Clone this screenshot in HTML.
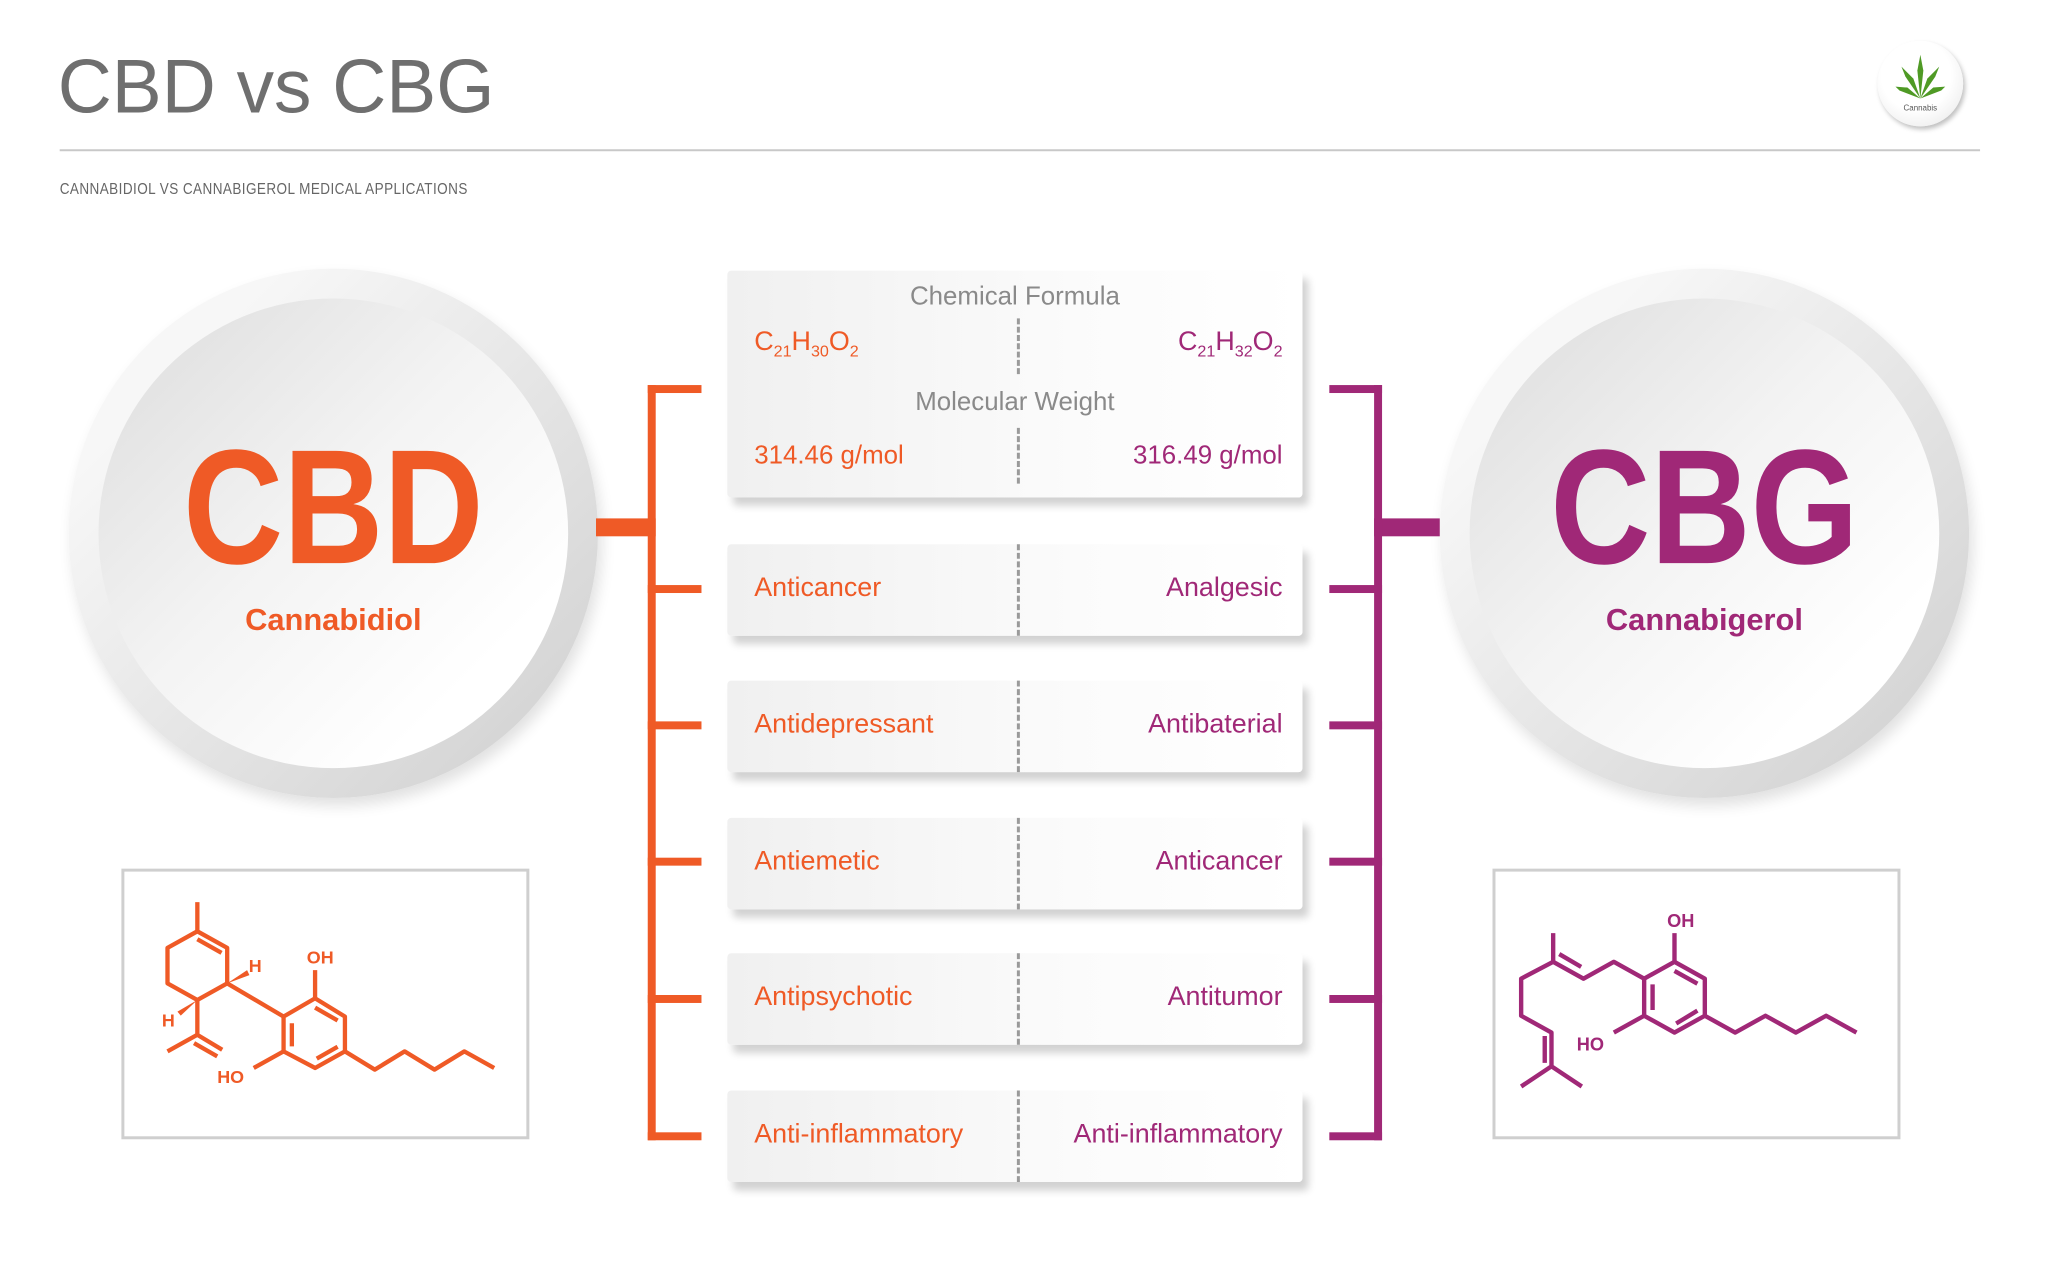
<!DOCTYPE html>
<html><head><meta charset="utf-8">
<style>
*{margin:0;padding:0;box-sizing:border-box}
body{width:2048px;height:1281px;background:#fff;position:relative;overflow:hidden;font-family:"Liberation Sans",sans-serif}
#wrap{position:absolute;left:0;top:0;width:2048px;height:1281px;transform:scale(0.995);transform-origin:0 0}
.abs{position:absolute}
.title{left:58px;top:44px;font-size:76px;color:#6f6f6f;transform:scaleX(0.99);transform-origin:left}
.rule{left:60px;top:150px;width:1930px;height:2px;background:#c8c8c8}
.sub{left:60px;top:182px;font-size:16px;color:#666;letter-spacing:0.5px;transform:scaleX(0.85);transform-origin:left}
.logo{left:1887px;top:41px;width:86px;height:86px;border-radius:50%;background:radial-gradient(circle at 45% 40%,#fff 50%,#e4e4e4 100%);box-shadow:2px 3px 5px rgba(0,0,0,.25)}
.outer{width:532px;height:532px;border-radius:50%;background:linear-gradient(135deg,#f7f7f7 20%,#d6d6d6 85%);box-shadow:4px 8px 14px rgba(0,0,0,.12)}
.inner{position:absolute;left:30px;top:30px;width:472px;height:472px;border-radius:50%;background:linear-gradient(135deg,#dcdcdc 0%,#f3f3f3 45%,#fff 80%)}
.big{position:absolute;width:100%;text-align:center;font-weight:bold;font-size:164px;top:146px;transform:scaleX(0.85)}
.name{position:absolute;width:100%;text-align:center;font-weight:bold;font-size:31px;top:225px}
.box{position:absolute;left:731px;width:578px;background:linear-gradient(90deg,#f0f0f0,#fbfbfb 60%,#fff);box-shadow:6px 8px 8px rgba(0,0,0,.18);border-radius:4px}
.row{height:92px}
.row .l,.row .r{position:absolute;top:28px;font-size:27px}
.l{left:27px;color:#ef5a26}
.r{right:20px;color:#a02877;text-align:right}
.dash{position:absolute;left:291px;width:0;border-left:3px dashed #9a9a9a}
.or{background:#ef5a26}.pu{background:#a02877}
.gray{color:#8a8a8a;font-size:26px;position:absolute;width:100%;text-align:center}
sub{font-size:60%}
.mol{position:absolute;border:3px solid #cfcfcf;background:#fff}
</style></head><body><div id="wrap">
<div class="abs title">CBD vs CBG</div>
<div class="abs rule"></div>
<div class="abs sub">CANNABIDIOL VS CANNABIGEROL MEDICAL APPLICATIONS</div>
<div class="abs logo">
<svg width="86" height="86" viewBox="0 0 86 86"><g fill="#4f9a25"><path d="M43 58 L40 30 L43 14 L46 30Z"/><path d="M43 58 L28 36 L24 26 L36 38Z"/><path d="M43 58 L58 36 L62 26 L50 38Z"/><path d="M43 58 L22 50 L18 46 L30 47Z"/><path d="M43 58 L64 50 L68 46 L56 47Z"/></g><text x="43" y="70" font-size="8" text-anchor="middle" fill="#555" font-family="Liberation Sans">Cannabis</text></svg>
</div>

<div class="abs outer" style="left:69px;top:270px"><div class="inner"></div>
<div class="big" style="color:#ef5a26">CBD</div><div class="name" style="color:#ef5a26;top:335px">Cannabidiol</div></div>
<div class="abs outer" style="left:1447px;top:270px"><div class="inner"></div>
<div class="big" style="color:#a02877">CBG</div><div class="name" style="color:#a02877;top:335px">Cannabigerol</div></div>

<div class="abs or" style="left:599px;top:521px;width:60px;height:18px"></div>
<div class="abs or" style="left:651px;top:387px;width:8px;height:759px"></div>
<div class="abs or" style="left:651px;top:387px;width:54px;height:8px"></div>
<div class="abs or" style="left:651px;top:588px;width:54px;height:8px"></div>
<div class="abs or" style="left:651px;top:725px;width:54px;height:8px"></div>
<div class="abs or" style="left:651px;top:862px;width:54px;height:8px"></div>
<div class="abs or" style="left:651px;top:1000px;width:54px;height:8px"></div>
<div class="abs or" style="left:651px;top:1138px;width:54px;height:8px"></div>
<div class="abs pu" style="left:1381px;top:521px;width:66px;height:18px"></div>
<div class="abs pu" style="left:1381px;top:387px;width:8px;height:759px"></div>
<div class="abs pu" style="left:1336px;top:387px;width:53px;height:8px"></div>
<div class="abs pu" style="left:1336px;top:588px;width:53px;height:8px"></div>
<div class="abs pu" style="left:1336px;top:725px;width:53px;height:8px"></div>
<div class="abs pu" style="left:1336px;top:862px;width:53px;height:8px"></div>
<div class="abs pu" style="left:1336px;top:1000px;width:53px;height:8px"></div>
<div class="abs pu" style="left:1336px;top:1138px;width:53px;height:8px"></div>

<div class="box" style="top:272px;height:228px">
<div class="gray" style="top:10px">Chemical Formula</div>
<div class="dash" style="top:48px;height:56px"></div>
<div class="abs l" style="top:56px;font-size:27px">C<sub>21</sub>H<sub>30</sub>O<sub>2</sub></div>
<div class="abs r" style="top:56px;font-size:27px">C<sub>21</sub>H<sub>32</sub>O<sub>2</sub></div>
<div class="gray" style="top:116px">Molecular Weight</div>
<div class="dash" style="top:158px;height:56px"></div>
<div class="abs l" style="top:170px;font-size:26px">314.46 g/mol</div>
<div class="abs r" style="top:170px;font-size:26px">316.49 g/mol</div>
</div>

<div class="box row" style="top:547px"><div class="dash" style="top:0;height:92px"></div><div class="l">Anticancer</div><div class="r">Analgesic</div></div>
<div class="box row" style="top:684px"><div class="dash" style="top:0;height:92px"></div><div class="l">Antidepressant</div><div class="r">Antibaterial</div></div>
<div class="box row" style="top:822px"><div class="dash" style="top:0;height:92px"></div><div class="l">Antiemetic</div><div class="r">Anticancer</div></div>
<div class="box row" style="top:958px"><div class="dash" style="top:0;height:92px"></div><div class="l">Antipsychotic</div><div class="r">Antitumor</div></div>
<div class="box row" style="top:1096px"><div class="dash" style="top:0;height:92px"></div><div class="l">Anti-inflammatory</div><div class="r">Anti-inflammatory</div></div>

<div class="mol" style="left:122px;top:873px;width:410px;height:272px"></div>
<svg class="abs" style="left:100px;top:860px" width="460" height="300" viewBox="0 0 1380 900">
<g stroke="#ef5a26" stroke-width="13" fill="none" stroke-linejoin="round">
<path d="M295 140 L295 228"/>
<path d="M295 228 L385 278 L385 385 L295 435 L205 385 L205 278 Z"/>
<path d="M295 252 L368 293"/>
<path d="M385 385 L555 485"/>
<path d="M295 435 L295 540 L205 590 M295 540 L370 585 M285 565 L355 605"/>
<path d="M555 485 L650 430 L740 485 L740 590 L650 640 L555 590 Z"/>
<path d="M650 458 L718 497 M580 505 L580 575 M655 612 L718 576"/>
<path d="M650 430 L650 345 M555 590 L465 640"/>
<path d="M740 590 L830 645 L920 590 L1010 645 L1100 590 L1190 640"/>
</g>
<path d="M385 385 L445 345 L452 360Z" fill="#ef5a26"/>
<path d="M295 435 L235 470 L245 482Z" fill="#ef5a26"/>
<g fill="#ef5a26" font-family="Liberation Sans" font-weight="bold" font-size="54">
<text x="625" y="325">OH</text><text x="355" y="685">HO</text><text x="450" y="350">H</text><text x="188" y="515">H</text></g>
</svg>

<div class="mol" style="left:1500px;top:873px;width:410px;height:272px"></div>
<svg class="abs" style="left:1500px;top:870px" width="420" height="280" viewBox="0 0 1240 826">
<g stroke="#a02877" stroke-width="13" fill="none" stroke-linejoin="round">
<path d="M180 200 L180 285 L85 335 L85 445 L175 495 L175 595 M155 505 L155 585 M175 595 L85 655 M175 595 L265 655"/>
<path d="M180 285 L270 335 L360 285 L450 335 M198 262 L263 300"/>
<path d="M450 335 L540 285 L630 335 L630 445 L540 495 L450 445 Z"/>
<path d="M540 312 L608 350 M475 352 L475 428 M545 468 L608 430"/>
<path d="M540 285 L540 200 M450 445 L360 495"/>
<path d="M630 445 L720 495 L810 445 L900 495 L990 445 L1080 495"/>
</g>
<g fill="#a02877" font-family="Liberation Sans" font-weight="bold" font-size="54">
<text x="518" y="182">OH</text><text x="250" y="548">HO</text></g>
</svg>
</div></body></html>
